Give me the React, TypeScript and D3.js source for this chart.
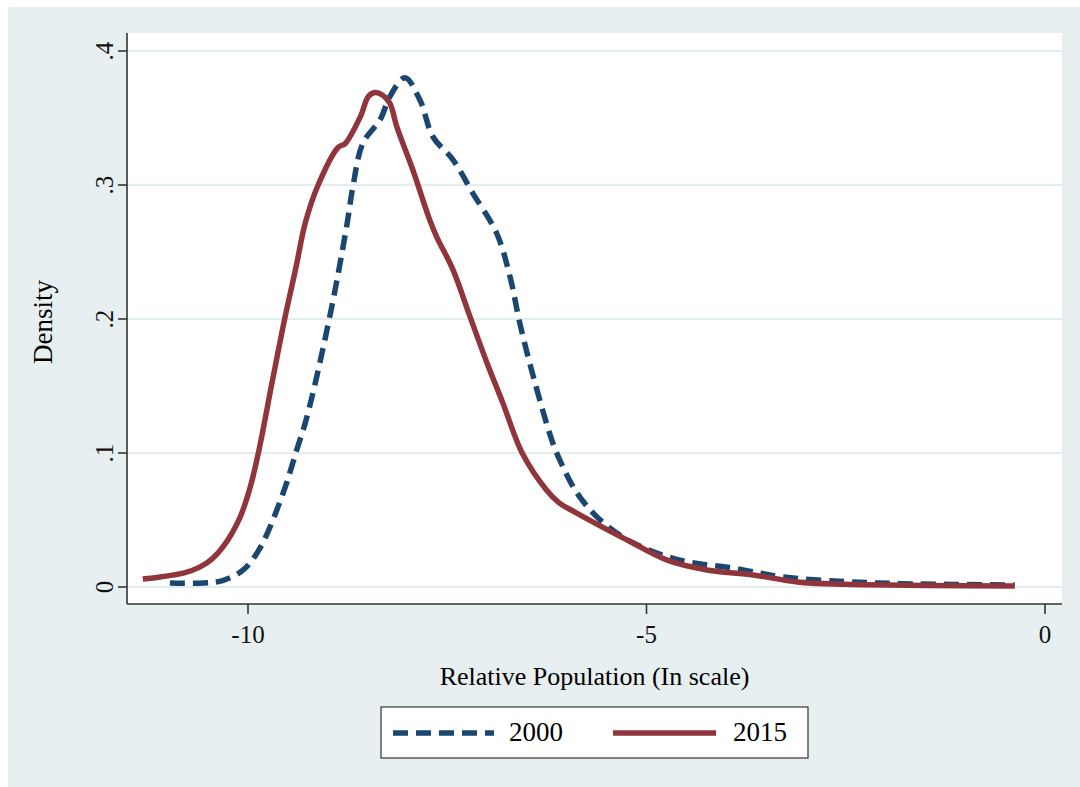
import React from "react";
import * as d3 from "d3";

const years = ["2000", "2015"];
const colors = ["#1a476f", "#90353b"];

const x2000 = [-10.98, -10.56, -10.31, -10.06, -9.85, -9.56, -9.39, -9.26, -8.97, -8.76, -8.68, -8.56, -8.34, -8.22, -8.03, -7.84, -7.68, -7.43, -7.18, -6.88, -6.71, -6.59, -6.42, -6.19, -6.09, -5.87, -5.58, -5.17, -4.58, -3.91, -3.29, -2.5, -1.8, -0.38];
const y2000 = [0.003, 0.003, 0.005, 0.0127, 0.029, 0.07, 0.102, 0.127, 0.203, 0.27, 0.3, 0.331, 0.349, 0.366, 0.38, 0.363, 0.336, 0.319, 0.294, 0.264, 0.231, 0.197, 0.157, 0.11, 0.095, 0.07, 0.05, 0.033, 0.02, 0.014, 0.0075, 0.004, 0.0025, 0.0015];

const x2015 = [-11.32, -11.1, -10.8, -10.6, -10.45, -10.3, -10.1, -9.97, -9.87, -9.7, -9.54, -9.4, -9.28, -9.12, -8.87, -8.78, -8.59, -8.49, -8.41, -8.31, -8.22, -8.13, -7.93, -7.72, -7.63, -7.43, -7.21, -7.0, -6.8, -6.56, -6.25, -6.1, -5.87, -5.24, -4.74, -4.24, -3.66, -3.11, -2.5, -1.5, -0.38];
const y2015 = [0.006, 0.0075, 0.0105, 0.015, 0.021, 0.031, 0.052, 0.075, 0.1, 0.152, 0.2, 0.238, 0.272, 0.3, 0.328, 0.331, 0.351, 0.366, 0.369, 0.367, 0.361, 0.343, 0.311, 0.274, 0.261, 0.237, 0.201, 0.167, 0.137, 0.1, 0.072, 0.063, 0.055, 0.035, 0.02, 0.0127, 0.009, 0.0037, 0.002, 0.0012, 0.0008];

const xTicks = [-10, -5, 0];
const xTickLabels = ["-10", "-5", "0"];
const yTicks = [0, 0.1, 0.2, 0.3, 0.4];
const yTickLabels = ["0", ".1", ".2", ".3", ".4"];

const xTitle = "Relative Population (In scale)";
const yTitle = "Density";

const FONT = "'Liberation Serif', 'DejaVu Serif', serif";

export default function App() {
  // page-coordinate layout
  const plotL = 127, plotR = 1062, plotT = 33, plotB = 604;
  const x = d3.scaleLinear().domain([-10, 0]).range([248, 1045]);
  const y = d3.scaleLinear().domain([0, 0.4]).range([587, 51]);

  const line = d3
    .line<[number, number]>()
    .x((d) => x(d[0]))
    .y((d) => y(d[1]))
    .curve(d3.curveCatmullRom.alpha(0.5));

  const series = [
    x2000.map((v, i) => [v, y2000[i]] as [number, number]),
    x2015.map((v, i) => [v, y2015[i]] as [number, number]),
  ];
  const dashes = ["15,8", null];

  const legX = 381, legY = 707, legW = 427, legH = 51;
  const legItems = [
    { x1: 393, x2: 494, tx: 509 },
    { x1: 613, x2: 716, tx: 733 },
  ];

  return (
    <svg
      width={1072}
      height={780}
      style={{ position: "absolute", left: 8, top: 7, display: "block" }}
    >
      <g transform="translate(-8,-7)">
        <rect x={8} y={7} width={1072} height={780} fill="#e8eff1" />
        <rect x={plotL} y={plotT} width={plotR - plotL} height={plotB - plotT} fill="#ffffff" />
        {yTicks.map((t) => (
          <line key={"g" + t} x1={plotL} x2={plotR} y1={y(t)} y2={y(t)} stroke="#e3ecef" strokeWidth={2} />
        ))}
        {series.map((s, i) => (
          <path
            key={years[i]}
            d={line(s) || ""}
            fill="none"
            stroke={colors[i]}
            strokeWidth={5.5}
            strokeDasharray={dashes[i] || undefined}
            strokeLinejoin="round"
          />
        ))}
        {/* axes */}
        <line x1={plotL} x2={plotL} y1={plotT} y2={plotB} stroke="#333" strokeWidth={1.6} />
        <line x1={plotL} x2={plotR} y1={plotB} y2={plotB} stroke="#333" strokeWidth={1.6} />
        {yTicks.map((t, i) => (
          <g key={"yt" + t}>
            <line x1={plotL - 9} x2={plotL} y1={y(t)} y2={y(t)} stroke="#333" strokeWidth={1.6} />
            <text
              transform={`translate(113,${y(t)}) rotate(-90)`}
              textAnchor="middle"
              fontFamily={FONT}
              fontSize={25}
              fill="#111"
            >
              {yTickLabels[i]}
            </text>
          </g>
        ))}
        {xTicks.map((t, i) => (
          <g key={"xt" + t}>
            <line x1={x(t)} x2={x(t)} y1={plotB} y2={plotB + 10} stroke="#333" strokeWidth={1.6} />
            <text x={x(t)} y={643} textAnchor="middle" fontFamily={FONT} fontSize={25} fill="#111">
              {xTickLabels[i]}
            </text>
          </g>
        ))}
        <text x={(plotL + plotR) / 2} y={685} textAnchor="middle" fontFamily={FONT} fontSize={26} fill="#000">
          {xTitle}
        </text>
        <text
          transform={`translate(52,322) rotate(-90)`}
          textAnchor="middle"
          fontFamily={FONT}
          fontSize={27}
          fill="#000"
        >
          {yTitle}
        </text>
        {/* legend */}
        <rect x={legX} y={legY} width={legW} height={legH} fill="#ffffff" stroke="#333" strokeWidth={1.2} />
        {legItems.map((it, i) => (
          <g key={"leg" + i}>
            <line
              x1={it.x1}
              x2={it.x2}
              y1={legY + 26}
              y2={legY + 26}
              stroke={colors[i]}
              strokeWidth={5.5}
              strokeDasharray={dashes[i] || undefined}
            />
            <text x={it.tx} y={legY + 34} fontFamily={FONT} fontSize={27} fill="#000">
              {years[i]}
            </text>
          </g>
        ))}
      </g>
    </svg>
  );
}
